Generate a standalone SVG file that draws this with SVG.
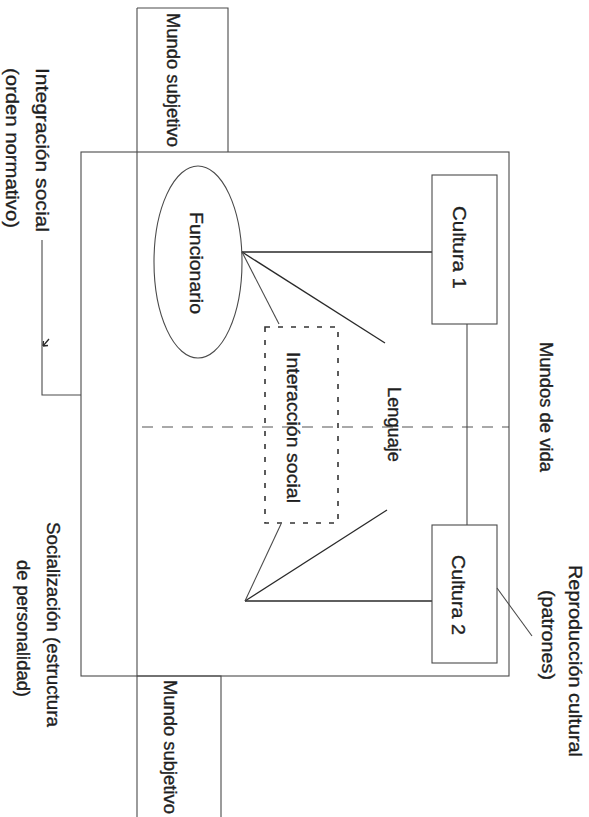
<svg xmlns="http://www.w3.org/2000/svg" width="589" height="817" viewBox="0 0 589 817">
<style>
.ln{stroke:#2a2a2a;stroke-width:1.3;fill:none}
.th{stroke:#4a4a4a;stroke-width:1.1;fill:none}
.dash{stroke:#333;stroke-width:1.6;fill:none;stroke-dasharray:5,8}
.dd{stroke:#555;stroke-width:1.1;fill:none;stroke-dasharray:11,9}
text{font-family:"Liberation Sans Narrow","Liberation Sans","DejaVu Sans Condensed",sans-serif;font-size:19px;fill:#1e1e1e;stroke:#1e1e1e;stroke-width:0.35;dominant-baseline:central}
</style>
<rect width="589" height="817" fill="#ffffff"/>
<g id="connectors">
<line class="th" x1="137" y1="8" x2="137" y2="817"/>
<line class="dd" x1="142" y1="427" x2="509" y2="427"/>
<line class="ln" x1="242" y1="252" x2="432" y2="252"/>
<line class="ln" x1="242" y1="252" x2="385" y2="343"/>
<line class="th" x1="242" y1="252" x2="279" y2="324"/>
<line class="ln" x1="245" y1="601" x2="432" y2="601"/>
<line class="ln" x1="245" y1="601" x2="387" y2="510"/>
<line class="th" x1="245" y1="601" x2="281" y2="524"/>
<line class="th" x1="467" y1="324" x2="467" y2="525"/>
<line class="th" x1="497" y1="588" x2="532" y2="636"/>
<polyline class="th" points="42,240 42,395 81,395"/>
<path class="ln" d="M43,346 L49,339 M43,346 l0.5,-5 M43,346 l5,-0.5"/>
</g>
<g id="mundo-subjetivo-top">
<polyline class="th" points="137,8 228,8 228,152"/>
<text transform="translate(173,13) rotate(90)" textLength="134" lengthAdjust="spacingAndGlyphs">Mundo subjetivo</text>
</g>
<g id="mundos-de-vida">
<rect class="th" x="81" y="152" width="428" height="524"/>
<text transform="translate(546,342) rotate(90)" textLength="130" lengthAdjust="spacingAndGlyphs">Mundos de vida</text>
</g>
<g id="mundo-subjetivo-bottom">
<polyline class="th" points="137,676 221,676 221,817"/>
<text transform="translate(170,680) rotate(90)" textLength="134" lengthAdjust="spacingAndGlyphs">Mundo subjetivo</text>
</g>
<g id="funcionario">
<ellipse class="th" cx="198" cy="262" rx="44" ry="96"/>
<text transform="translate(196,212) rotate(90)" textLength="102" lengthAdjust="spacingAndGlyphs">Funcionario</text>
</g>
<g id="cultura1">
<rect class="th" x="432" y="175" width="65" height="149"/>
<text transform="translate(459,206) rotate(90)" textLength="83" lengthAdjust="spacingAndGlyphs">Cultura 1</text>
</g>
<g id="cultura2">
<rect class="th" x="432" y="525" width="65" height="138"/>
<text transform="translate(458,555) rotate(90)" textLength="80" lengthAdjust="spacingAndGlyphs">Cultura 2</text>
</g>
<g id="interaccion-social">
<rect class="dash" x="265" y="327" width="73" height="196"/>
<text transform="translate(293,352) rotate(90)" textLength="151" lengthAdjust="spacingAndGlyphs">Interacción social</text>
</g>
<g id="lenguaje">
<text transform="translate(394,387) rotate(90)" textLength="75" lengthAdjust="spacingAndGlyphs">Lenguaje</text>
</g>
<g id="reproduccion">
<text transform="translate(575,565) rotate(90)" textLength="192" lengthAdjust="spacingAndGlyphs">Reproducción cultural</text>
<text transform="translate(548,590) rotate(90)" textLength="90" lengthAdjust="spacingAndGlyphs">(patrones)</text>
</g>
<g id="socializacion">
<text transform="translate(53,522) rotate(90)" textLength="205" lengthAdjust="spacingAndGlyphs">Socialización (estructura</text>
<text transform="translate(23,560) rotate(90)" textLength="137" lengthAdjust="spacingAndGlyphs">de personalidad)</text>
</g>
<g id="integracion">
<text transform="translate(42,68) rotate(90)" textLength="164" lengthAdjust="spacingAndGlyphs">Integración social</text>
<text transform="translate(12,68) rotate(90)" textLength="160" lengthAdjust="spacingAndGlyphs">(orden normativo)</text>
</g>
</svg>
